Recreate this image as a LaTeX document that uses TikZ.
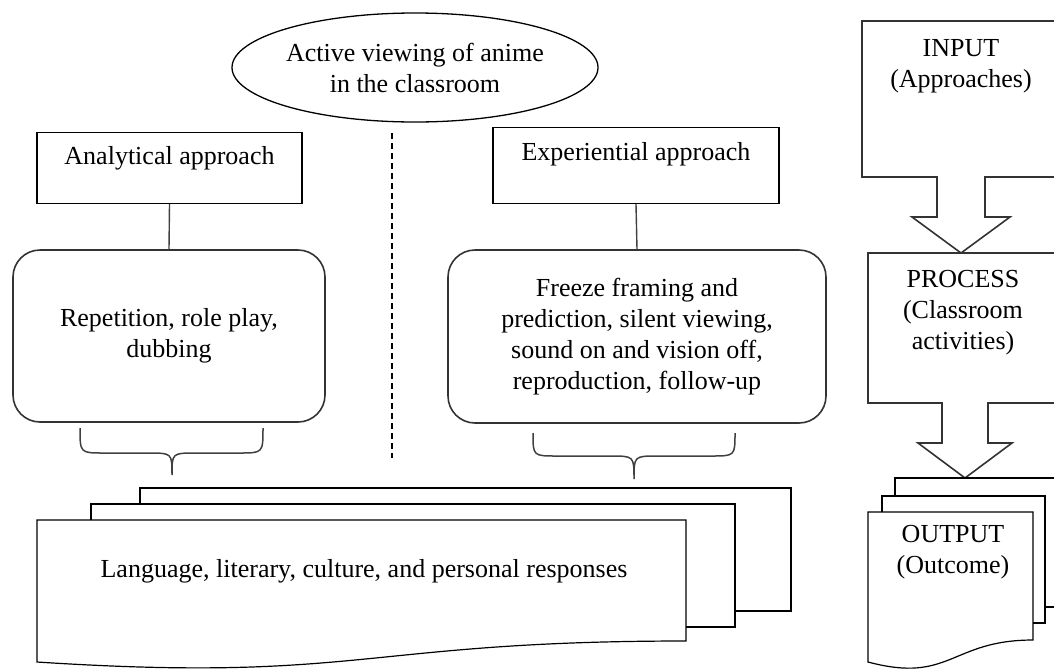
\documentclass[tikz,border=0pt]{standalone}
\usepackage{fontspec}
\setmainfont{Liberation Serif}
\usetikzlibrary{shapes.geometric}

\begin{document}
\begin{tikzpicture}[
		x=1pt, y=-1pt,
		every node/.style={font=\fontsize{26}{31}\selectfont, inner sep=0pt},
		oval/.style={ellipse, draw, line width=1.3pt, minimum width=366pt, minimum height=109pt, align=center},
		apbox/.style={rectangle, draw, line width=1.2pt, anchor=north},
		actbox/.style={rectangle, rounded corners=27pt, draw=black!80, line width=1.6pt, align=center},
		txt/.style={align=center},
		page/.style={draw, line width=1.2pt},
		callout/.style={draw=black!80, line width=1.6pt},
		brace/.style={draw=black!75, line width=1.5pt}]
	\useasboundingbox (0,0) rectangle (1054,670);
	\clip (0,0) rectangle (1054,670);
	%% title and divider
	\node[oval] (title) at (415,67.5) {Active viewing of anime\\in the classroom};
	\draw[dash pattern=on 6pt off 4pt, line width=1.2pt] (392,133) -- (392,458);
	%% approaches
	\node[apbox, minimum width=265pt, text height=32pt, text depth=39pt] (anal) at (169.5,132) {Analytical approach};
	\node[apbox, minimum width=286pt, text height=33pt, text depth=43pt] (expe) at (636,127) {Experiential approach};
	%% activities
	\node[actbox, minimum width=312pt, minimum height=172pt] (rep) at (169,336) {Repetition, role play,\\dubbing};
	\node[actbox, minimum width=378pt, minimum height=173pt] (frz) at (637,336.5) {Freeze framing and\\prediction, silent viewing,\\sound on and vision off,\\reproduction, follow-up};
	\draw[line width=1.4pt, draw=black!75] (anal.south) -- (rep.north);
	\draw[line width=1.4pt, draw=black!75] (expe.south) -- (frz.north);
	%% braces
	\draw[brace] (80,428) .. controls (80,453) .. (104,453) -- (148,453) .. controls (172,453) .. (172,475)
		.. controls (172,453) .. (196,453) -- (239,453) .. controls (263,453) .. (263,428);
	\draw[brace] (533,433) .. controls (533,456) .. (557,456) -- (610,456) .. controls (634,456) .. (634,479)
		.. controls (634,456) .. (658,456) -- (711,456) .. controls (735,456) .. (735,433);
	%% responses (stack of pages)
	\draw[page] (140,504) -- (140,488) -- (791,488) -- (791,611) -- (735,611);
	\draw[page] (91,520) -- (91,504) -- (735,504) -- (735,627) -- (686,627);
	\draw[page] (37,520) -- (686,520) -- (686,641) .. controls (361.5,641) and (361.5,683) .. (37,662) -- cycle;
	\node[txt] (resp) at (364,571) {Language, literary, culture, and personal responses};
	%% input - process - output
	\draw[callout] (862,21) -- (1060,21) -- (1060,177) -- (985,177) -- (985,217) -- (1010,217) -- (961,253)
		-- (912,217) -- (937,217) -- (937,177) -- (862,177) -- cycle;
	\node[txt] (input) at (961,66) {INPUT\\(Approaches)};
	\draw[callout] (868,253) -- (1062,253) -- (1062,403) -- (988,403) -- (988,443) -- (1012,443) -- (965,478)
		-- (918,443) -- (942,443) -- (942,403) -- (868,403) -- cycle;
	\node[txt] (process) at (963,313) {PROCESS\\(Classroom\\activities)};
	\draw[page] (895,496) -- (895,478) -- (1060,478) -- (1060,607) -- (1045,607);
	\draw[page] (882,512) -- (882,496) -- (1045,496) -- (1045,623) -- (1033,623);
	\draw[page] (868,512) -- (1033,512) -- (1033,640) .. controls (950.5,640) and (950.5,684) .. (868,662) -- cycle;
	\node[txt] (output) at (953,552) {OUTPUT\\(Outcome)};
\end{tikzpicture}
\end{document}
